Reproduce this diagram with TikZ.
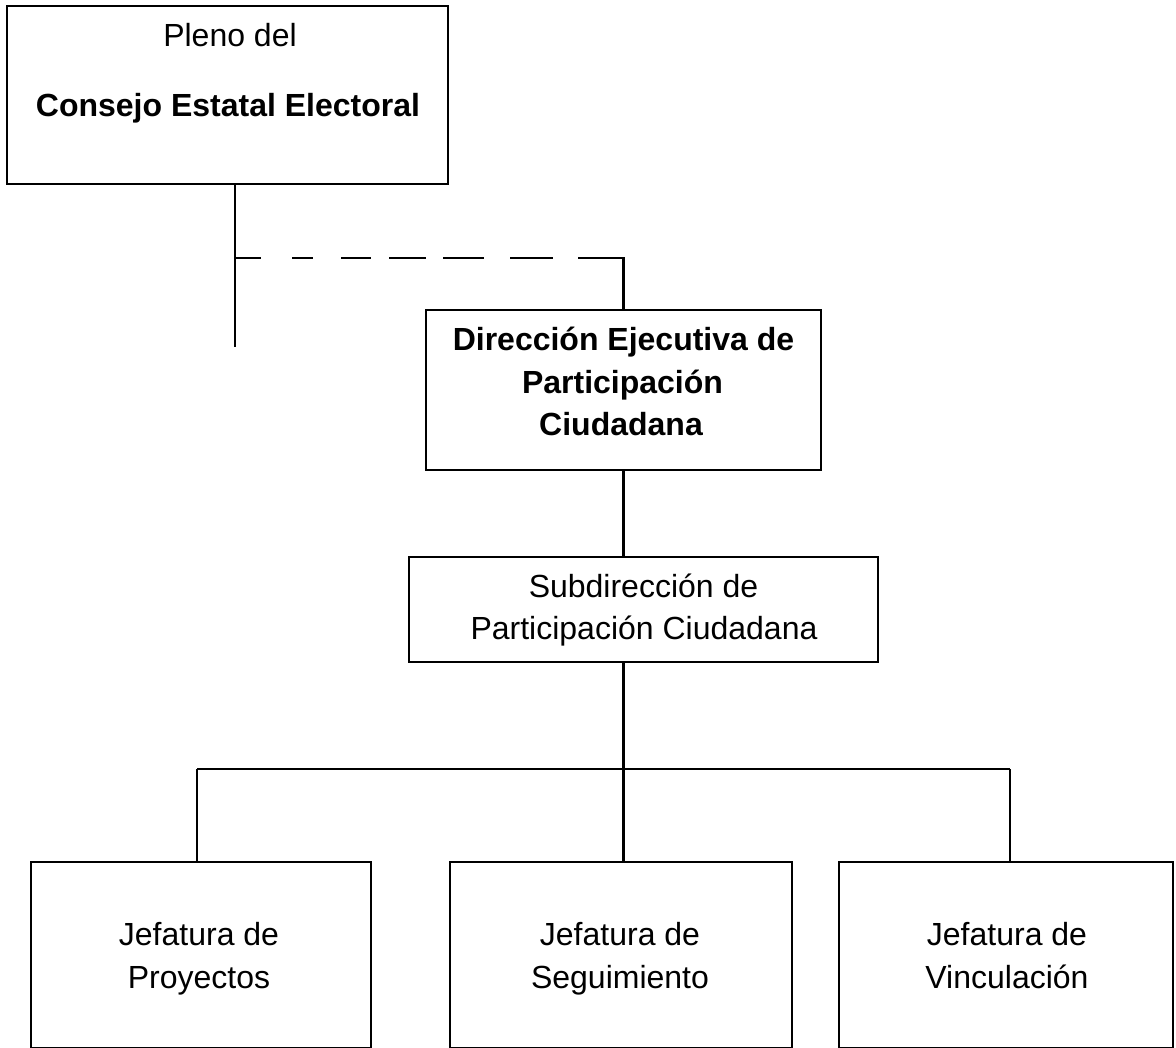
\documentclass[tikz,border=0pt]{standalone}
\usepackage{fontspec}
\setmainfont{Liberation Sans}
\begin{document}
\begin{tikzpicture}[x=1pt,y=-1pt,
  box/.style={draw, line width=2.2pt, rectangle, inner sep=0pt},
  txt/.style={font=\fontsize{32}{38}\selectfont, anchor=base, inner sep=0pt},
  btxt/.style={font=\fontsize{32}{38}\selectfont\bfseries, anchor=base, inner sep=0pt},
  link/.style={line width=2.2pt}]
\useasboundingbox (0,0) rectangle (1176,1048);
% boxes
\node[box, minimum width=441pt, minimum height=178pt] (top) at (227.5,95) {};
\node[box, minimum width=395pt, minimum height=160pt] (dir) at (623.5,390) {};
\node[box, minimum width=469pt, minimum height=105pt] (sub) at (643.5,609.5) {};
\node[box, minimum width=340pt, minimum height=186pt] (p) at (201,955) {};
\node[box, minimum width=342pt, minimum height=186pt] (s) at (621,955) {};
\node[box, minimum width=334pt, minimum height=186pt] (v) at (1006,955) {};
% texts
\node[txt]  (t1) at (230,47) {Pleno del};
\node[btxt] (t2) at (228,117) {Consejo Estatal Electoral};
\node[btxt] (d1) at (623.5,351) {Dirección Ejecutiva de};
\node[btxt] (d2) at (622.5,394) {Participación};
\node[btxt] (d3) at (621,436) {Ciudadana};
\node[txt]  (s1) at (643.5,597) {Subdirección de};
\node[txt]  (s2) at (644,639) {Participación Ciudadana};
\node[txt]  (p1) at (199,945) {Jefatura de};
\node[txt]  (p2) at (199,988) {Proyectos};
\node[txt]  (q1) at (620,945) {Jefatura de};
\node[txt]  (q2) at (620,988) {Seguimiento};
\node[txt]  (v1) at (1007,945) {Jefatura de};
\node[txt]  (v2) at (1007,988) {Vinculación};
% connectors
\coordinate (lend) at (235,347);
\coordinate (dl) at (235,258);
\coordinate (dr) at (623.5,258);
\draw[link] (lend |- top.south) -- (lend);
\draw[link, dash pattern=on 26pt off 31pt on 21pt off 28pt on 30pt off 18pt on 37pt off 17pt on 41pt off 26pt on 43pt off 25pt on 100pt off 10pt]
  (dl) -- (dr) -- (dir.north);
\draw[link] (dir.south) -- (dir.south |- sub.north);
\coordinate (bj) at (623.5,769);
\coordinate (bl) at (197,769);
\coordinate (br) at (1010,769);
\draw[link] (bj |- sub.south) -- (bj);
\draw[link] (bl) -- (br);
\draw[link] (bl) -- (bl |- p.north);
\draw[link] (bj) -- (bj |- s.north);
\draw[link] (br) -- (br |- v.north);
\end{tikzpicture}
\end{document}
